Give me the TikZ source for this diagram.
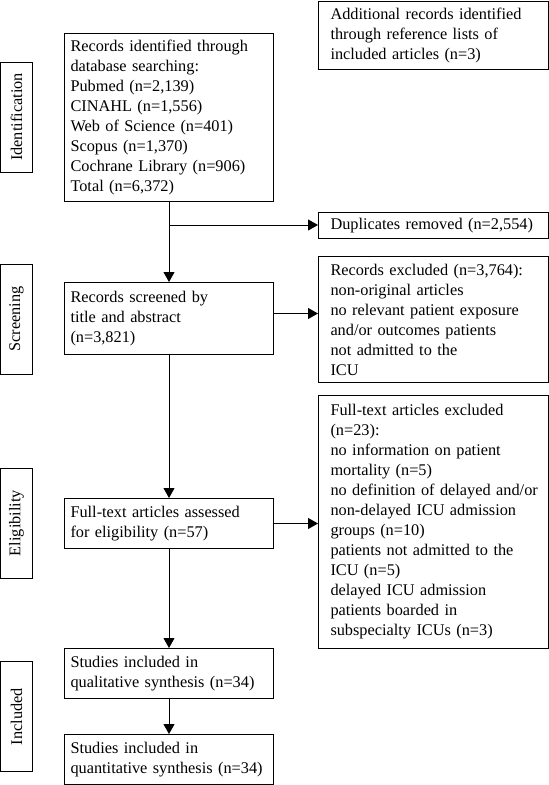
\documentclass[tikz,border=0pt]{standalone}
\usepackage{fontspec}
\setmainfont{Liberation Serif}
\usetikzlibrary{arrows.meta}

\begin{document}
\begin{tikzpicture}[x=1pt,y=-1pt,
    every node/.style={font=\fontsize{16.3}{20}\selectfont},
    box/.style={draw,line width=1pt,anchor=north west,align=left,inner ysep=0pt,
      inner xsep=6pt,text width=197pt,minimum width=209pt},
    sidebox/.style={box,inner xsep=9pt,text width=212pt,minimum width=230pt},
    stage/.style={draw,line width=1pt,rotate=90,inner sep=0pt,
      minimum width=110pt,minimum height=32pt}]
  \useasboundingbox (0,0) rectangle (549,785);
  \draw
    (16.5,117) node[stage] (ident){Identification}
    (16.5,319) node[stage] (screen){Screening}
    (16.5,523) node[stage] (elig){Eligibility}
    (16.5,716.5) node[stage] (incl){Included}
    (64,33) node[box,minimum height=168pt] (rec){Records identified through\\database searching:\\Pubmed (n=2,139)\\CINAHL (n=1,556)\\Web of Science (n=401)\\Scopus (n=1,370)\\Cochrane Library (n=906)\\Total (n=6,372)}
    (64,282) node[box,minimum height=72pt] (scr){Records screened by\\title and abstract\\(n=3,821)}
    (64,498) node[box,minimum height=50pt] (full){Full-text articles assessed\\for eligibility (n=57)}
    (64,648) node[box,minimum height=50pt] (qual){Studies included in\\qualitative synthesis (n=34)}
    (64,734) node[box,minimum height=50pt] (quant){Studies included in\\quantitative synthesis (n=34)}
    (318,0.5) node[sidebox,minimum height=68.5pt] (add){\hspace*{3pt}Additional records identified\\\hspace*{3pt}through reference lists of\\\hspace*{3pt}included articles (n=3)}
    (318,212) node[sidebox,minimum height=26pt] (dup){\hspace*{3pt}Duplicates removed (n=2,554)}
    (318,256) node[sidebox,minimum height=126pt] (excl){\hspace*{3pt}Records excluded (n=3,764):\\\hspace*{3pt}non-original articles\\\hspace*{3pt}no relevant patient exposure\\\hspace*{3pt}and/or outcomes patients\\\hspace*{3pt}not admitted to the\\\hspace*{3pt}ICU}
    (318,395) node[sidebox,minimum height=253pt] (ftexcl){\hspace*{3pt}Full-text articles excluded\\\hspace*{3pt}(n=23):\\\hspace*{3pt}no information on patient\\\hspace*{3pt}mortality (n=5)\\\hspace*{3pt}no definition of delayed and/or\\\hspace*{3pt}non-delayed ICU admission\\\hspace*{3pt}groups (n=10)\\\hspace*{3pt}patients not admitted to the\\\hspace*{3pt}ICU (n=5)\\\hspace*{3pt}delayed ICU admission\\\hspace*{3pt}patients boarded in\\\hspace*{3pt}subspecialty ICUs (n=3)};
  \coordinate (split) at ([yshift=-23pt]rec.south);
  \begin{scope}[-{Triangle[length=10pt,width=11pt]},line width=1pt]
    \draw (rec) to (scr);
    \draw (split) to (split -| dup.west);
    \draw ([yshift=5pt]scr.east) to ([yshift=5pt]scr.east -| excl.west);
    \draw (scr) to (full);
    \draw (full.east) to (full.east -| ftexcl.west);
    \draw (full) to (qual);
    \draw (qual) to (quant);
  \end{scope}
\end{tikzpicture}
\end{document}
